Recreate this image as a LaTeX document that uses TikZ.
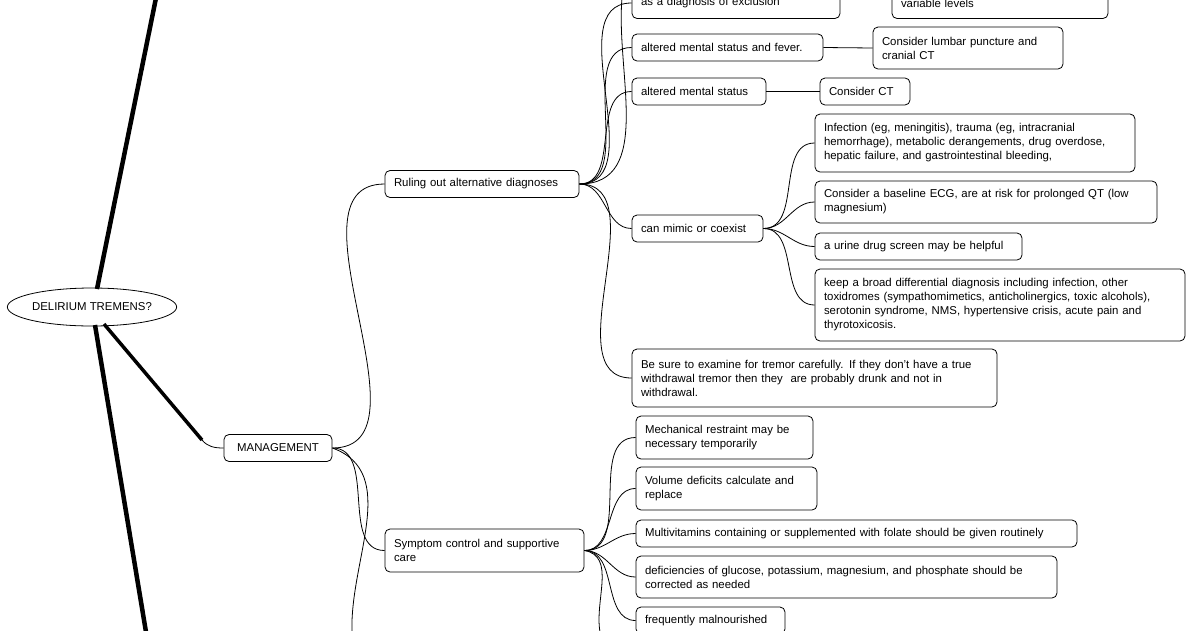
\documentclass[tikz,border=0pt]{standalone}
\usepackage{fontspec}
\setmainfont{Liberation Sans}
\usetikzlibrary{shapes.geometric}
\begin{document}
\begin{tikzpicture}[x=1pt,y=-1pt,
  box/.style={draw,rounded corners=5pt,align=left,inner xsep=9pt,inner ysep=3pt,font=\fontsize{11.4}{14}\selectfont,line width=0.8pt},
  con/.style={line width=0.8pt},
  thick/.style={line width=4.5pt}]
\useasboundingbox (0,0) rectangle (1200,630);
\node[draw,ellipse,minimum width=158pt,minimum height=38pt,inner sep=0pt,font=\fontsize{11.4}{14}\selectfont,line width=0.8pt] (root) at (92,307) {DELIRIUM TREMENS?};
\coordinate (topend) at (156,-2);
\coordinate (botend) at (146,632);
\coordinate (mbend) at (202,440);
\draw[thick] (97,289) -- (topend);
\draw[thick] (95,325) -- (botend);
\node[box,minimum width=108pt,minimum height=27pt] (mgmt) at (278,448) {MANAGEMENT};
\draw[line width=3.5pt] (104,324) -- (mbend);
\draw[con] (mbend) to[out=-50,in=180] (mgmt.west);
\node[box,text width=176pt,minimum height=27pt] (rule) at (482,184) {Ruling out alternative diagnoses};
\node[box,text width=181pt,minimum height=43pt] (sym) at (484.5,550.5) {Symptom control and supportive\\care};
\coordinate (mdown) at (352,632);
\draw[con] (mgmt.east) to[out=0,in=180] (rule.west);
\draw[con] (mgmt.east) to[out=0,in=180] (sym.west);
\draw[con] (mgmt.east) to[out=-20,in=92] (mdown);

% ruling out children
\node[box,text width=190pt,minimum height=31pt] (excl) at (736,3) {\raisebox{-2pt}{as a diagnosis of exclusion}};
\node[box,text width=198pt,minimum height=31pt] (var) at (1000,3) {\raisebox{-2pt}{variable levels}};
\node[box,text width=173pt,minimum height=27pt] (fever) at (727.5,47.5) {altered mental status and fever.};
\node[box,text width=172pt,minimum height=42pt] (lp) at (968,48) {Consider lumbar puncture and\\cranial CT};
\node[box,text width=116pt,minimum height=27pt] (ams) at (699,91.5) {altered mental status};
\node[box,text width=72pt,minimum height=27pt] (ct) at (865,91.5) {Consider CT};
\node[box,text width=113pt,minimum height=27pt] (mimic) at (697.5,228.5) {can mimic or coexist};
\node[box,text width=302pt,minimum height=58pt] (inf) at (975,143) {Infection (eg, meningitis), trauma (eg, intracranial\\hemorrhage), metabolic derangements, drug overdose,\\hepatic failure, and gastrointestinal bleeding,};
\node[box,text width=324pt,minimum height=42pt] (ecg) at (986,202) {Consider a baseline ECG, are at risk for prolonged QT (low\\magnesium)};
\node[box,text width=189pt,minimum height=27pt] (urine) at (918.5,246.5) {a urine drug screen may be helpful};
\node[box,text width=352pt,minimum height=72pt] (broad) at (1000,305) {keep a broad differential diagnosis including infection, other\\toxidromes (sympathomimetics, anticholinergics, toxic alcohols),\\serotonin syndrome, NMS, hypertensive crisis, acute pain and\\thyrotoxicosis.};
\node[box,text width=347pt,minimum height=58pt] (tremor) at (814.5,378) {Be sure to examine for tremor carefully. If they don't have a true\\withdrawal tremor then they\ \ are probably drunk and not in\\withdrawal.};
\coordinate (rup) at (622,-2);
\draw[con] (rule.east) to[out=0,in=-95] (rup);
\foreach \n in {excl,fever,ams,mimic,tremor} \draw[con] (rule.east) to[out=0,in=180] (\n.west);
\draw[con] (fever.east) -- (lp.west);
\draw[con] (ams.east) -- (ct.west);
\foreach \n in {inf,ecg,urine,broad} \draw[con] (mimic.east) to[out=0,in=180] (\n.west);

% symptom children
\node[box,text width=159pt,minimum height=43pt] (mech) at (724.5,437.5) {Mechanical restraint may be\\necessary temporarily};
\node[box,text width=163pt,minimum height=43pt] (vol) at (726.5,488.5) {Volume deficits calculate and\\replace};
\node[box,text width=423pt,minimum height=27pt] (multi) at (856.5,533.5) {Multivitamins containing or supplemented with folate should be given routinely};
\node[box,text width=403pt,minimum height=42pt] (def) at (846.5,577) {deficiencies of glucose, potassium, magnesium, and phosphate should be\\corrected as needed};
\node[box,text width=131pt,minimum height=27pt] (mal) at (710.5,620.5) {frequently malnourished};
\coordinate (sdown) at (600,632);
\foreach \n in {mech,vol,multi,def,mal} \draw[con] (sym.east) to[out=0,in=180] (\n.west);
\draw[con] (sym.east) to[out=-10,in=100] (sdown);
\end{tikzpicture}
\end{document}
